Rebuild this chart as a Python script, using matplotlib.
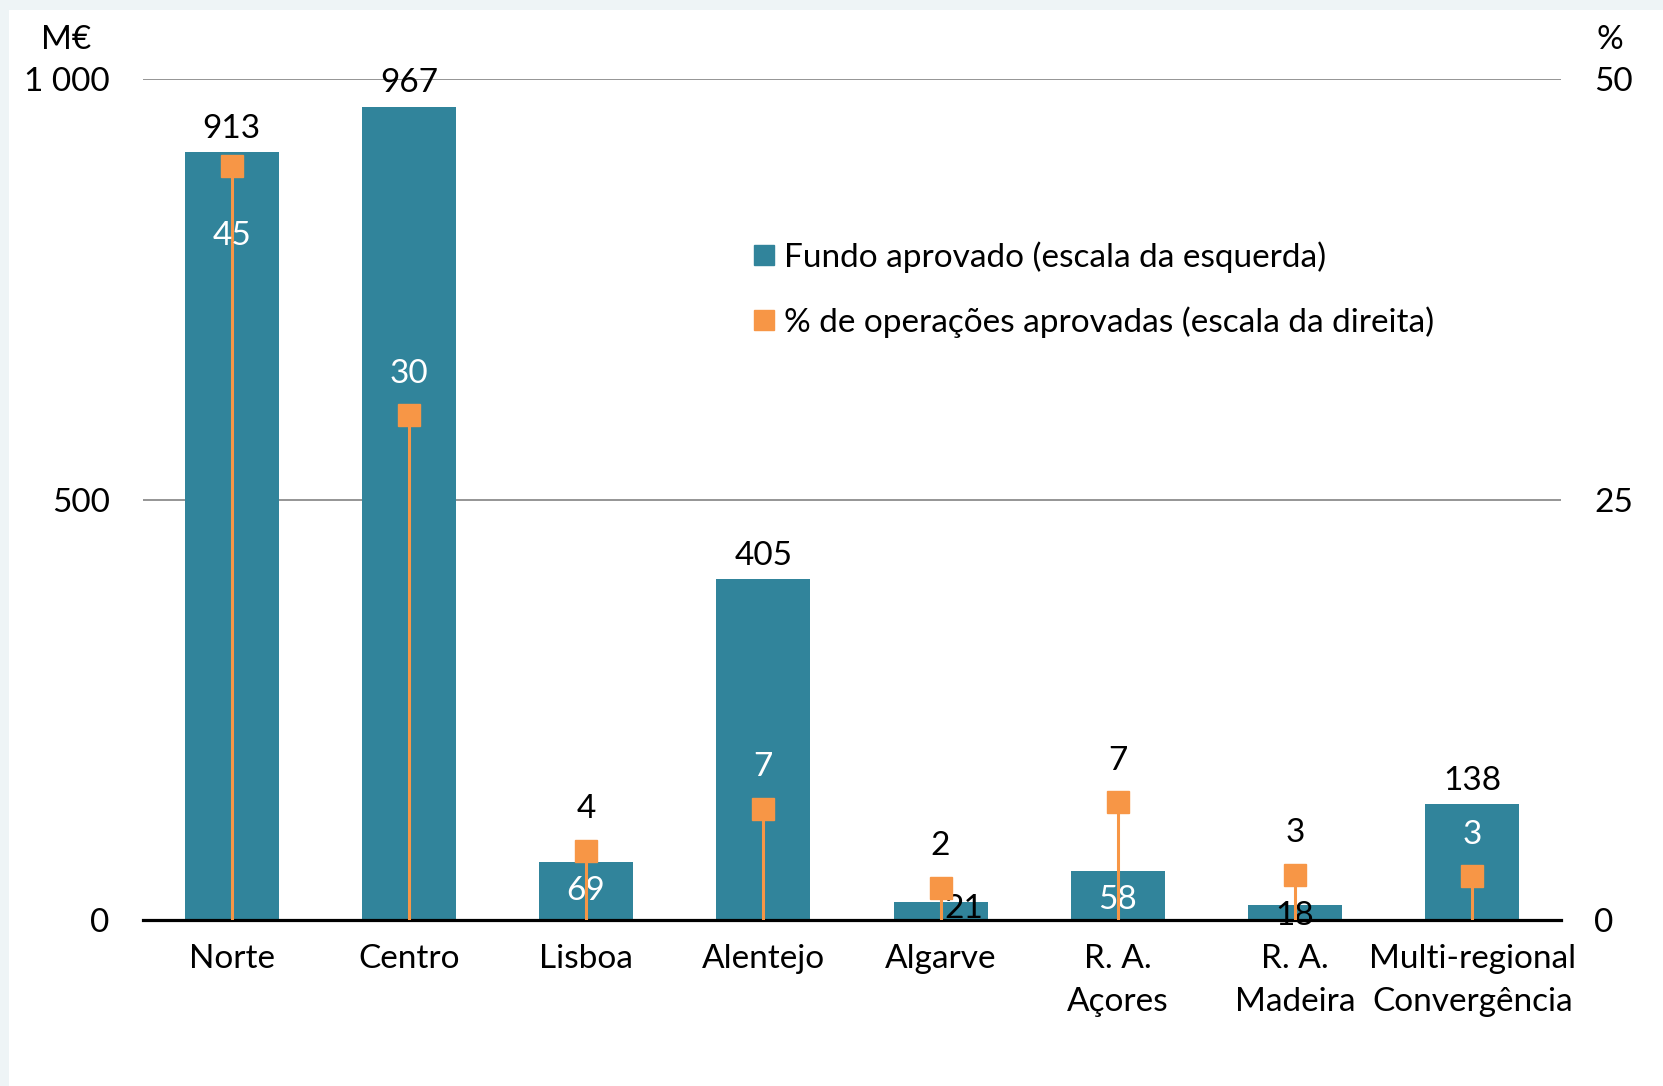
import matplotlib
matplotlib.use("Agg")
import matplotlib.pyplot as plt
from matplotlib.patches import Rectangle
from matplotlib.lines import Line2D

# data
regions = ['Norte', 'Centro', 'Lisboa', 'Alentejo', 'Algarve',
           'R. A.\nAçores', 'R. A.\nMadeira', 'Multi-regional\nConvergência']
fundo = [913, 967, 69, 405, 21, 58, 18, 138]          # M€
pct_oper = [44.8, 30.0, 4.1, 6.6, 1.9, 7.0, 2.7, 2.6]  # %

teal = '#31849B'
orange = '#F79646'

plt.rcParams['font.family'] = ['Lato', 'DejaVu Sans']
fs = 24

fig = plt.figure(figsize=(16.63, 10.86), dpi=100)
fig.patch.set_facecolor('#eef4f6')
fig.patches.append(Rectangle((9 / 1663, 0), 1, 1 - 10 / 1086, transform=fig.transFigure,
                             facecolor='white', edgecolor='none', zorder=-10))

ax = fig.add_axes([143 / 1663, 1 - 920 / 1086, (1561 - 143) / 1663, (920 - 79) / 1086])
ax.set_facecolor('none')
x = list(range(len(regions)))

bars = ax.bar(x, fundo, width=0.53, color=teal, zorder=2)
ax.set_xlim(-0.5, 7.5)
ax.set_ylim(0, 1000)
ax.set_yticks([0, 500, 1000])
ax.set_yticklabels(['0', '500', '1 000'])
ax.set_xticks(x)
ax.set_xticklabels(regions, linespacing=1.55)
ax.tick_params(axis='both', length=0, labelsize=fs)
ax.tick_params(axis='y', pad=24)
ax.tick_params(axis='x', pad=17)
for s in ax.spines.values():
    s.set_visible(False)
ax.set_axisbelow(True)
ax.yaxis.grid(True, color='#8c8c8c', lw=1.3)
ax.axhline(0, color='black', lw=2.3, zorder=5, clip_on=False)

# bar value labels (Excel-like placement)
bar_place = ['above', 'above', 'inside', 'above', 'low', 'inside', 'low', 'above']
for xi, v, p in zip(x, fundo, bar_place):
    if p == 'above':
        ax.annotate(f'{v}', (xi, v), xytext=(0, 6), textcoords='offset points',
                    ha='center', va='bottom', fontsize=fs, color='black', zorder=6)
    elif p == 'inside':
        ax.annotate(f'{v}', (xi, v), xytext=(0, -21), textcoords='offset points',
                    ha='center', va='center', fontsize=fs, color='white', zorder=6)
    else:
        dx = 17 if v > 20 else 0
        dy = -5 if v > 20 else -8
        ax.annotate(f'{v}', (xi, v), xytext=(dx, dy), textcoords='offset points',
                    ha='center', va='center', fontsize=fs, color='black', zorder=6)

ax2 = ax.twinx()
ax2.set_ylim(0, 50)
ax2.set_yticks([0, 25, 50])
ax2.tick_params(axis='y', length=0, labelsize=fs, pad=24)
for s in ax2.spines.values():
    s.set_visible(False)
ax2.vlines(x, 0, pct_oper, color=orange, lw=2.2, zorder=3)
ax2.plot(x, pct_oper, linestyle='none', marker='s', markersize=16.5,
         color=orange, zorder=4)

pct_color = ['white', 'white', 'black', 'white', 'black', 'black', 'black', 'white']
for xi, v, c in zip(x, pct_oper, pct_color):
    dy = -50 if v > 40 else 30
    ax2.annotate(f'{v:.0f}', (xi, v), xytext=(0, dy), textcoords='offset points',
                 ha='center', va='center', fontsize=fs, color=c, zorder=6)

fig.text(66 / 1663, 1 - 40 / 1086, 'M€', ha='center', va='center', fontsize=fs)
fig.text(1610 / 1663, 1 - 40 / 1086, '%', ha='center', va='center', fontsize=fs)

handles = [Line2D([], [], linestyle='none', marker='s', markersize=15, color=teal),
           Line2D([], [], linestyle='none', marker='s', markersize=15, color=orange)]
ax2.legend(handles, ['Fundo aprovado (escala da esquerda)',
                     '% de operações aprovadas (escala da direita)'],
           loc='upper left', bbox_to_anchor=(754 / 1663, 1 - 241 / 1086),
           bbox_transform=fig.transFigure, frameon=False, fontsize=fs,
           handlelength=0.6, handletextpad=0.3, labelspacing=1.0, borderpad=0,
           borderaxespad=0)

fig.savefig('out.png', dpi=100, facecolor=fig.get_facecolor())
